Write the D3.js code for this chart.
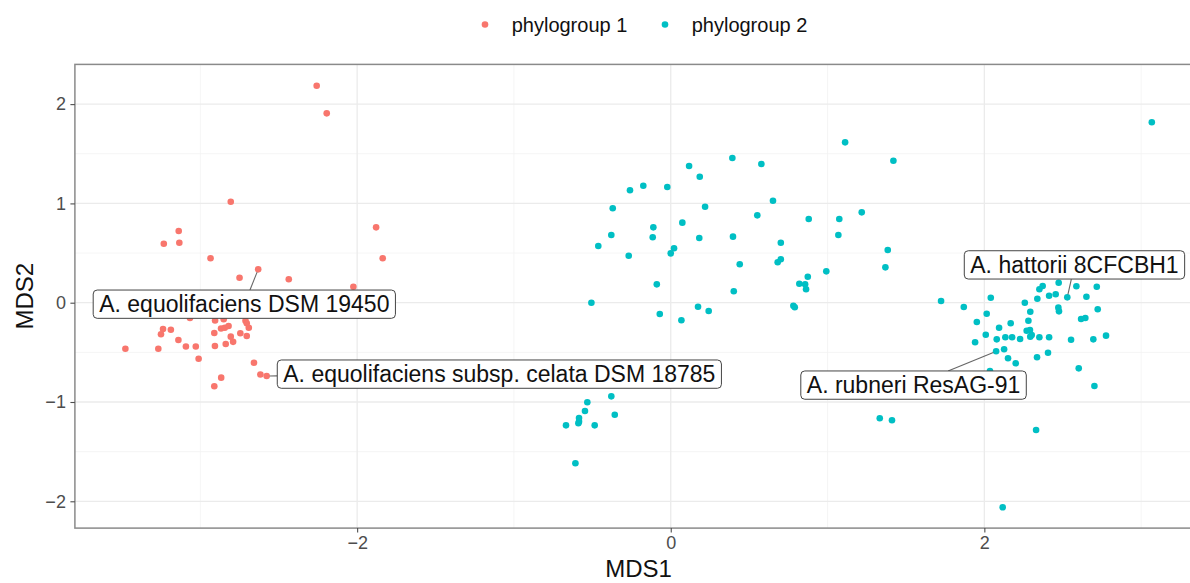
<!DOCTYPE html>
<html><head><meta charset="utf-8">
<script src="https://cdn.jsdelivr.net/npm/d3@7"></script>
<style>
body{margin:0;background:#fff}
svg{display:block;font-family:"Liberation Sans",Arial,Helvetica,sans-serif}
</style>
</head><body>
<svg id="chart" width="1190" height="583"></svg>
<script>
// ---------- data ----------
const groups = ["phylogroup 1", "phylogroup 2"];
const groupColors = ["#F8766D", "#00BFC4"];

const group1X = [-2.258,-2.194,-2.806,-1.879,-1.837,-3.138,-3.134,-3.233,-2.935,-2.631,-2.750,-2.436,-2.024,
  -3.066,-2.906,-2.851,-2.712,-2.704,-3.238,-3.188,-3.251,-2.911,-2.868,-2.844,-2.820,-2.691,-2.745,-2.704,
  -2.806,-2.791,-2.838,-3.140,-3.478,-3.268,-3.092,-3.029,-2.907,-3.011,-2.658,-2.617,-2.577,-2.867,-2.911];
const group1Y = [2.185,1.907,1.017,0.759,0.447,0.722,0.604,0.594,0.448,0.336,0.251,0.236,0.160,
  -0.154,-0.179,-0.167,-0.182,-0.207,-0.265,-0.272,-0.318,-0.305,-0.260,-0.252,-0.235,-0.252,-0.308,-0.335,
  -0.342,-0.394,-0.416,-0.376,-0.463,-0.463,-0.441,-0.441,-0.436,-0.565,-0.604,-0.723,-0.738,-0.755,-0.842];

const group2X = [1.112,1.420,0.393,0.578,0.117,0.185,-0.260,-0.175,-0.022,-0.370,0.219,0.652,0.552,0.880,1.075,1.218,
  -0.111,0.074,-0.379,-0.115,0.182,0.397,1.069,-0.462,0.021,0.000,-0.268,0.702,1.384,0.440,0.682,0.702,1.369,0.992,
  0.874,0.820,0.857,0.863,-0.089,0.402,-0.506,0.782,0.791,0.174,0.242,-0.070,0.068,
  -0.379,-0.532,-0.547,-0.357,-0.585,-0.585,-0.589,-0.668,-0.485,-0.608,1.333,1.411,
  3.068,
  1.724,1.869,2.041,1.952,2.015,1.941,2.009,2.094,2.168,2.079,2.134,2.177,2.228,2.075,2.126,2.151,2.200,
  2.258,2.293,2.281,2.270,2.291,2.302,2.293,2.351,2.413,2.336,2.406,2.338,2.351,2.372,2.413,2.455,2.474,
  2.472,2.476,2.529,2.587,2.651,2.717,2.723,2.617,2.644,2.553,2.695,2.776,2.602,2.702,2.330,2.117,2.036];
const group2Y = [1.615,1.430,1.457,1.397,1.377,1.269,1.132,1.178,1.165,0.951,0.967,1.027,0.880,0.843,0.843,0.910,
  0.759,0.806,0.682,0.659,0.652,0.665,0.682,0.571,0.548,0.497,0.473,0.604,0.531,0.387,0.407,0.437,0.356,0.316,
  0.262,0.191,0.185,0.135,0.185,0.115,0.000,-0.030,-0.046,-0.040,-0.084,-0.114,-0.177,
  -0.943,-1.003,-1.091,-1.128,-1.161,-1.198,-1.214,-1.235,-1.235,-1.617,-1.164,-1.184,
  1.817,
  0.017,-0.043,0.050,-0.194,-0.111,-0.399,-0.322,-0.252,-0.207,-0.369,-0.348,-0.348,-0.366,-0.489,-0.469,-0.560,-0.610,
  0.000,-0.091,-0.181,-0.282,-0.275,-0.325,-0.342,-0.348,-0.348,-0.550,-0.504,0.040,0.135,0.168,0.070,0.085,0.201,
  -0.050,-0.087,0.054,0.165,0.060,0.161,-0.066,-0.164,-0.154,-0.373,-0.369,-0.332,-0.661,-0.839,-1.282,-2.060,-0.688];

const xTicks = [-2, 0, 2];
const yTicks = [-2, -1, 0, 1, 2];
const xMinor = [-3, -1, 1, 3];
const yMinor = [-1.5, -0.5, 0.5, 1.5];

const labelNames = ["A. equolifaciens DSM 19450", "A. equolifaciens subsp. celata DSM 18785",
                    "A. rubneri ResAG-91", "A. hattorii 8CFCBH1"];
const labelX = [-2.631, -2.577, 2.075, 2.529];
const labelY = [0.336, -0.738, -0.489, 0.054];

// ---------- layout ----------
const labelOffsets = [[-165, 20.7], [10.6, -16], [-195.3, 19.7], [-103, -46.6]]; // box top-left relative to point (px)

const svg = d3.select("#chart");
const x = d3.scaleLinear().domain([-3.80, 3.39]).range([74.9, 1202.3]);
const y = d3.scaleLinear().domain([-2.27, 2.40]).range([528.1, 64.4]);
const [x0, x1] = x.range(), [y0, y1] = [y.range()[1], y.range()[0]];

const points = [];
group1X.forEach((v, i) => points.push({x: v, y: group1Y[i], g: 0}));
group2X.forEach((v, i) => points.push({x: v, y: group2Y[i], g: 1}));

// grid
const grid = svg.append("g");
grid.selectAll(".xmin").data(xMinor).join("line")
  .attr("x1", d => x(d)).attr("x2", d => x(d)).attr("y1", y0).attr("y2", y1)
  .attr("stroke", "#f2f2f2").attr("stroke-width", 0.8);
grid.selectAll(".ymin").data(yMinor).join("line")
  .attr("y1", d => y(d)).attr("y2", d => y(d)).attr("x1", x0).attr("x2", x1)
  .attr("stroke", "#f2f2f2").attr("stroke-width", 0.8);
grid.selectAll(".xmaj").data(xTicks).join("line")
  .attr("x1", d => x(d)).attr("x2", d => x(d)).attr("y1", y0).attr("y2", y1)
  .attr("stroke", "#ebebeb").attr("stroke-width", 1.3);
grid.selectAll(".ymaj").data(yTicks).join("line")
  .attr("y1", d => y(d)).attr("y2", d => y(d)).attr("x1", x0).attr("x2", x1)
  .attr("stroke", "#ebebeb").attr("stroke-width", 1.3);

// points
svg.append("g").selectAll("circle").data(points).join("circle")
  .attr("cx", d => x(d.x)).attr("cy", d => y(d.y)).attr("r", 3.3)
  .attr("fill", d => groupColors[d.g]);

// labels
const lab = svg.append("g");
labelNames.forEach((name, i) => {
  const px = x(labelX[i]), py = y(labelY[i]);
  const bx = px + labelOffsets[i][0], by = py + labelOffsets[i][1];
  const g = lab.append("g");
  const seg = g.append("line");
  const rect = g.append("rect");
  const t = g.append("text").attr("x", bx + 6).attr("y", by + 22)
    .attr("font-size", 23).attr("fill", "#111").text(name);
  const tw = t.node().getComputedTextLength();
  const bw = tw + 12, bh = 28.3;
  rect.attr("x", bx).attr("y", by).attr("width", bw).attr("height", bh)
    .attr("rx", 4).attr("ry", 4).attr("fill", "#fff").attr("stroke", "#444").attr("stroke-width", 1);
  // leader: from point toward box centre, clipped at the box edge it enters
  const cx = bx + bw / 2, cy = by + bh / 2;
  const dx = cx - px, dy = cy - py;
  const tx = dx !== 0 ? (dx > 0 ? (bx - px) / dx : (bx + bw - px) / dx) : -Infinity;
  const ty = dy !== 0 ? (dy > 0 ? (by - py) / dy : (by + bh - py) / dy) : -Infinity;
  const te = Math.max(tx, ty);
  const ts = 3 / Math.hypot(dx, dy);
  seg.attr("x1", px + dx * ts).attr("y1", py + dy * ts)
     .attr("x2", px + dx * te).attr("y2", py + dy * te)
     .attr("stroke", "#666").attr("stroke-width", 1.1);
});

// panel border
svg.append("rect").attr("x", x0).attr("y", y0).attr("width", x1 - x0).attr("height", y1 - y0)
  .attr("fill", "none").attr("stroke", "#8a8a8a").attr("stroke-width", 1.5);

// axes
const fmt = d3.format("d");
const xAxis = svg.append("g").attr("transform", `translate(0,${y1})`)
  .call(d3.axisBottom(x).tickValues(xTicks).tickFormat(fmt).tickSize(4.5).tickPadding(4));
const yAxis = svg.append("g").attr("transform", `translate(${x0},0)`)
  .call(d3.axisLeft(y).tickValues(yTicks).tickFormat(fmt).tickSize(4.5).tickPadding(4.5));
[xAxis, yAxis].forEach(a => {
  a.select(".domain").remove();
  a.selectAll(".tick line").attr("stroke", "#4d4d4d").attr("stroke-width", 1.1);
  a.selectAll(".tick text").attr("fill", "#4d4d4d").attr("font-size", 18)
    .attr("font-family", '"Liberation Sans",Arial,sans-serif');
});

// axis titles
svg.append("text").attr("x", (x0 + x1) / 2).attr("y", 577).attr("text-anchor", "middle")
  .attr("font-size", 24).attr("fill", "#111").text("MDS1");
svg.append("text").attr("transform", `translate(32.5,${(y0 + y1) / 2}) rotate(-90)`)
  .attr("text-anchor", "middle").attr("font-size", 24).attr("fill", "#111").text("MDS2");

// legend
const legendPos = [[485, 511.7], [665, 691.7]];
const leg = svg.append("g");
groups.forEach((gname, i) => {
  leg.append("circle").attr("cx", legendPos[i][0]).attr("cy", 24.5).attr("r", 3.3).attr("fill", groupColors[i]);
  leg.append("text").attr("x", legendPos[i][1]).attr("y", 32).attr("font-size", 20).attr("fill", "#111").text(gname);
});
</script>
</body></html>
